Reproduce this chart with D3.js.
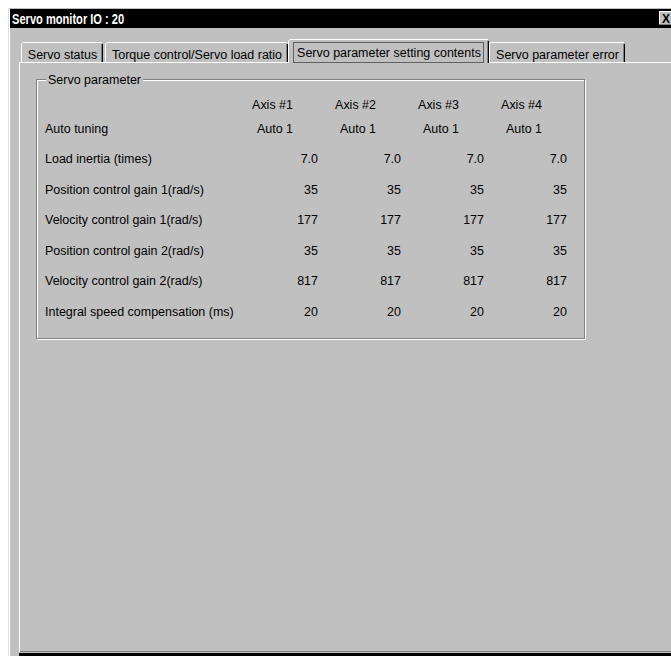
<!DOCTYPE html>
<html>
<head>
<meta charset="utf-8">
<script src="https://cdn.jsdelivr.net/npm/d3@7"></script>
<style>
  body { margin: 0; background: #fff; }
  text { font-family: "Liberation Sans", Arial, sans-serif; }
</style>
</head>
<body>
<div id="dialog"></div>
<script>
// dialog contents
const windowTitle = "Servo monitor IO : 20";
const tabLabels = ["Servo status", "Torque control/Servo load ratio", "Servo parameter setting contents", "Servo parameter error"];
const activeTab = 2;
const groupTitle = "Servo parameter";

const axes = ["Axis #1", "Axis #2", "Axis #3", "Axis #4"];
const autoTuning = ["Auto 1", "Auto 1", "Auto 1", "Auto 1"];
const paramNames = [
    "Load inertia (times)",
    "Position control gain 1(rad/s)",
    "Velocity control gain 1(rad/s)",
    "Position control gain 2(rad/s)",
    "Velocity control gain 2(rad/s)",
    "Integral speed compensation (ms)"
];
const loadInertia = [7.0, 7.0, 7.0, 7.0];
const posGain1 = [35, 35, 35, 35];
const velGain1 = [177, 177, 177, 177];
const posGain2 = [35, 35, 35, 35];
const velGain2 = [817, 817, 817, 817];
const integralComp = [20, 20, 20, 20];

const paramValues = [loadInertia, posGain1, velGain1, posGain2, velGain2, integralComp];
const paramFormats = [d3.format(".1f"), d3.format("d"), d3.format("d"), d3.format("d"), d3.format("d"), d3.format("d")];

const width = 671, height = 656;
const face = "#c0c0c0", light = "#dfdfdf", shadow = "#808080";
const fontSize = 13.5, sx = 0.925; // the dialog font is a bit narrow

// text placed with a horizontal squeeze
function label(parent, x, y, str, anchor) {
    return parent.append("text")
        .attr("transform", `translate(${x},${y}) scale(${sx},1)`)
        .attr("text-anchor", anchor || "start")
        .attr("font-size", fontSize)
        .text(str);
}

const svg = d3.select("#dialog").append("svg")
    .attr("width", width).attr("height", height)
    .style("display", "block");

svg.append("rect").attr("width", width).attr("height", height).attr("fill", "#fff");

// window frame
svg.append("rect").attr("x", 8).attr("y", 8).attr("width", width).attr("height", height).attr("fill", face);
svg.append("line").attr("x1", 8.5).attr("y1", 8).attr("x2", 8.5).attr("y2", height).attr("stroke", light);
svg.append("line").attr("x1", 9.5).attr("y1", 9).attr("x2", 9.5).attr("y2", height).attr("stroke", "#fff");

// title bar
svg.append("rect").attr("x", 10).attr("y", 9).attr("width", width).attr("height", 19).attr("fill", "#000");
svg.append("text").attr("transform", "translate(12,24) scale(0.74,1)")
    .attr("fill", "#fff").attr("font-weight", "bold").attr("font-size", 15)
    .text(windowTitle);

// close button (cut off by the edge)
const closeBtn = svg.append("g").attr("transform", "translate(659,11)");
closeBtn.append("rect").attr("width", 16).attr("height", 14).attr("fill", face);
closeBtn.append("path").attr("d", "M0.5,14V0.5H16").attr("fill", "none").attr("stroke", "#fff");
closeBtn.append("line").attr("x1", 0).attr("y1", 13.5).attr("x2", 16).attr("y2", 13.5).attr("stroke", shadow);
closeBtn.append("text").attr("x", 3).attr("y", 11.5).attr("font-weight", "bold").attr("font-size", 12).text("X");

// tab page panel
const panelTop = 62, panelLeft = 19, panelBottom = 651;
svg.append("line").attr("x1", panelLeft + 0.5).attr("y1", panelTop).attr("x2", panelLeft + 0.5).attr("y2", panelBottom + 1).attr("stroke", "#fff");
svg.append("line").attr("x1", panelLeft + 1).attr("y1", panelBottom + 0.5).attr("x2", width).attr("y2", panelBottom + 0.5).attr("stroke", shadow);
svg.append("rect").attr("x", panelLeft).attr("y", 653).attr("width", width).attr("height", 3).attr("fill", "#000");

// tabs, sized from their labels
const tabG = svg.append("g");
const measure = tabG.append("text").attr("font-size", fontSize);
const textW = tabLabels.map(t => {
    measure.text(t);
    return measure.node().getComputedTextLength() * sx;
});
measure.remove();
const tabWidths = textW.map(w => w + 14);

let tabX = [];
let acc = 21;
tabWidths.forEach(w => { tabX.push(acc); acc += w + 1; });

tabG.selectAll("g.tab").data(tabLabels).enter().append("g").attr("class", "tab")
    .each(function (d, i) {
        const g = d3.select(this);
        const sel = i === activeTab;
        const x0 = Math.round(tabX[i]) - (sel ? 2 : 0);
        const x1 = Math.round(tabX[i] + tabWidths[i]) + (sel ? 2 : 0);
        const top = sel ? 39 : 42;
        const bottom = sel ? panelTop + 1 : panelTop;
        g.append("rect").attr("x", x0).attr("y", top).attr("width", x1 - x0).attr("height", bottom - top).attr("fill", face);
        g.append("path")
            .attr("d", `M${x0 + 0.5},${bottom}V${top + 2}L${x0 + 2},${top + 0.5}H${x1 - 2}`)
            .attr("fill", "none").attr("stroke", "#fff");
        g.append("path")
            .attr("d", `M${x1 - 1.5},${top + 2}V${bottom}`)
            .attr("fill", "none").attr("stroke", "#000");
        g.append("path")
            .attr("d", `M${x1 - 2},${top + 1.5}L${x1 - 1.5},${top + 2}M${x1 - 2.5},${top + 2}V${bottom}`)
            .attr("fill", "none").attr("stroke", shadow);
        const tx = (x0 + x1) / 2;
        label(g, tx, sel ? 57 : 59, d, "middle");
        if (sel) {
            g.append("rect")
                .attr("x", Math.round(tx - textW[i] / 2) - 3.5).attr("y", 42.5)
                .attr("width", Math.round(textW[i]) + 6).attr("height", 20)
                .attr("fill", "none").attr("stroke", "#000").attr("stroke-dasharray", "1,1");
        }
    });

// panel top edge with a gap under the active tab
const selX0 = Math.round(tabX[activeTab]) - 2, selX1 = Math.round(tabX[activeTab] + tabWidths[activeTab]) + 2;
svg.append("path")
    .attr("d", `M${panelLeft},${panelTop + 0.5}H${selX0 + 1}M${selX1 - 1},${panelTop + 0.5}H${width}`)
    .attr("stroke", "#fff").attr("fill", "none");

// group box (etched)
const gb = { x: 36, y: 79, w: 548, h: 259 };
const group = svg.append("g");
group.append("rect").attr("x", gb.x + 1.5).attr("y", gb.y + 1.5).attr("width", gb.w).attr("height", gb.h)
    .attr("fill", "none").attr("stroke", "#fff");
group.append("rect").attr("x", gb.x + 0.5).attr("y", gb.y + 0.5).attr("width", gb.w).attr("height", gb.h)
    .attr("fill", "none").attr("stroke", shadow);
const legendRect = group.append("rect").attr("fill", face);
const legend = label(group, 48, 83.5, groupTitle);
const lw = legend.node().getComputedTextLength() * sx;
legendRect.attr("x", 46).attr("y", gb.y - 1).attr("width", lw + 4).attr("height", 4);

// columns & rows
const xCol = d3.scalePoint().domain(axes).range([318, 567]);
const yRow = d3.scalePoint().domain(paramNames).range([163, 315.5]);
const headerY = 109, autoY = 133, labelX = 45, headOffset = 25;

const table = svg.append("g");

axes.forEach(a => label(table, xCol(a) - headOffset, headerY, a, "end"));

label(table, labelX, autoY, "Auto tuning");
autoTuning.forEach((d, i) => label(table, xCol(axes[i]) - headOffset, autoY, d, "end"));

paramNames.forEach((name, r) => {
    label(table, labelX, yRow(name), name);
    paramValues[r].forEach((v, i) => label(table, xCol(axes[i]), yRow(name), paramFormats[r](v), "end"));
});
</script>
</body>
</html>
